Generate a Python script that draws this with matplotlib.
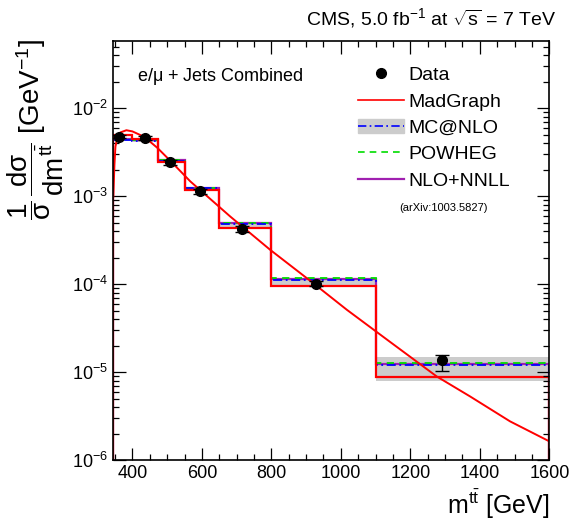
import matplotlib
matplotlib.use('Agg')
import matplotlib.pyplot as plt
import numpy as np
from matplotlib.lines import Line2D
from matplotlib.patches import Patch
from matplotlib.ticker import MultipleLocator, LogLocator, NullFormatter

plt.rcParams['font.family'] = ['Liberation Sans', 'DejaVu Sans']
plt.rcParams['mathtext.fontset'] = 'custom'
plt.rcParams['mathtext.rm'] = 'Liberation Sans'
plt.rcParams['mathtext.it'] = 'Liberation Sans'
plt.rcParams['mathtext.bf'] = 'Liberation Sans:bold'

# bin edges in m_tt [GeV]
edges = [345, 400, 475, 550, 650, 800, 1100, 1600]

# normalised differential cross section, per bin
madgraph = [4.93e-3, 4.44e-3, 2.43e-3, 1.16e-3, 4.33e-4, 9.64e-5, 8.9e-6]
mcatnlo = [4.40e-3, 4.25e-3, 2.52e-3, 1.23e-3, 4.85e-4, 1.12e-4, 1.19e-5]
mcatnlo_lo = [4.25e-3, 4.10e-3, 2.44e-3, 1.17e-3, 4.35e-4, 9.7e-5, 8.0e-6]
mcatnlo_hi = [4.55e-3, 4.40e-3, 2.62e-3, 1.27e-3, 4.98e-4, 1.18e-4, 1.48e-5]
powheg = [4.46e-3, 4.31e-3, 2.56e-3, 1.25e-3, 4.95e-4, 1.16e-4, 1.27e-5]
nlo_nnll = [4.48e-3, 4.33e-3, 2.57e-3, 1.25e-3, 4.93e-4, 1.15e-4, 1.23e-5]

# data points
data_x = [362.6, 436.5, 509.3, 595.5, 715.5, 929.1, 1290.6]
data_y = [4.76e-3, 4.56e-3, 2.43e-3, 1.13e-3, 4.28e-4, 1.01e-4, 1.37e-5]
data_err_lo = [0.22e-3, 0.21e-3, 0.14e-3, 0.08e-3, 0.35e-4, 0.07e-4, 0.33e-5]
data_err_hi = [0.22e-3, 0.21e-3, 0.14e-3, 0.08e-3, 0.35e-4, 0.07e-4, 0.21e-5]

# smooth MadGraph curve
curve_x = [345, 348.2, 351.1, 356.9, 365.5, 382.7, 400, 434.5, 471.9, 509.3, 566.8,
           681.8, 796.8, 911.9, 1017.4, 1141.1, 1276.2, 1372.0, 1487.0, 1600]
curve_y = [9.9e-4, 2.27e-3, 3.66e-3, 4.72e-3, 5.31e-3, 5.62e-3, 5.45e-3, 4.72e-3, 3.54e-3,
           2.52e-3, 1.47e-3, 5.86e-4, 2.45e-4, 1.09e-4, 5.1e-5, 2.21e-5, 8.9e-6, 5.28e-6,
           2.75e-6, 1.63e-6]

fig = plt.figure(figsize=(5.74, 5.25), dpi=100)
ax = fig.add_axes([0.1974, 0.1238, 0.7596, 0.7987])

ax.stairs(mcatnlo_hi, edges, baseline=mcatnlo_lo, fill=True, color='#cccccc', lw=0)
ax.stairs(nlo_nnll, edges, color='#a020b0', lw=1.6)
ax.stairs(powheg, edges, color='#00dd00', lw=1.3, ls=(0, (4, 3)))
ax.stairs(mcatnlo, edges, color='#0000ff', lw=1.3, ls=(0, (5, 2, 1, 2)))
ax.stairs(madgraph, edges, color='#ff0000', lw=1.6)
ax.plot(curve_x, curve_y, color='#ff0000', lw=1.4)
ax.errorbar(data_x, data_y, yerr=[data_err_lo, data_err_hi], fmt='o', color='black',
            ms=7, elinewidth=1.0, capsize=5, capthick=1.0, zorder=5)

ax.set_yscale('log')
ax.set_xlim(345, 1600)
ax.set_ylim(1e-6, 0.0586)
ax.xaxis.set_major_locator(MultipleLocator(200))
ax.xaxis.set_minor_locator(MultipleLocator(50))
ax.yaxis.set_major_locator(LogLocator(base=10, numticks=20))
ax.yaxis.set_minor_locator(LogLocator(base=10, subs=np.arange(2, 10), numticks=20))
ax.yaxis.set_minor_formatter(NullFormatter())
ax.tick_params(which='both', direction='in', top=True, right=True, labelsize=13, width=0.9)
ax.tick_params(which='major', length=9)
ax.tick_params(which='minor', length=4.5)
for s in ax.spines.values():
    s.set_linewidth(1.2)

ax.set_xlabel(r'm$^{\mathregular{t\bar{t}}}$ [GeV]', fontsize=18, ha='right', x=1.0)
fig.text(0.062, 0.925, r'$\dfrac{1}{\sigma}\,\dfrac{d\sigma}{dm^{t\bar{t}}}$ [GeV$^{-1}$]',
         rotation=90, ha='center', va='top', fontsize=20)
fig.text(0.968, 0.965, r'CMS, 5.0 fb$^{-1}$ at $\sqrt{s}$ = 7 TeV', ha='right', va='center', fontsize=14)
ax.text(0.055, 0.905, r'e/$\mu$ + Jets Combined', transform=ax.transAxes, fontsize=13)

handles = [Line2D([], [], color='black', marker='o', ls='none', ms=7),
           Line2D([], [], color='#ff0000', lw=1.2),
           (Patch(color='#cccccc'), Line2D([], [], color='#0000ff', lw=1.2, ls=(0, (5, 2, 1, 2)))),
           Line2D([], [], color='#00dd00', lw=1.2, ls=(0, (4, 3))),
           Line2D([], [], color='#a020b0', lw=1.6)]
labels = ['Data', 'MadGraph', 'MC@NLO', 'POWHEG', 'NLO+NNLL']
ax.legend(handles, labels, loc='upper left', bbox_to_anchor=(0.52, 0.98), frameon=False,
          fontsize=14, handlelength=2.4, handletextpad=0.2, labelspacing=0.45)
ax.text(0.655, 0.595, '(arXiv:1003.5827)', transform=ax.transAxes, fontsize=8)

plt.savefig('out.png', dpi=100)
